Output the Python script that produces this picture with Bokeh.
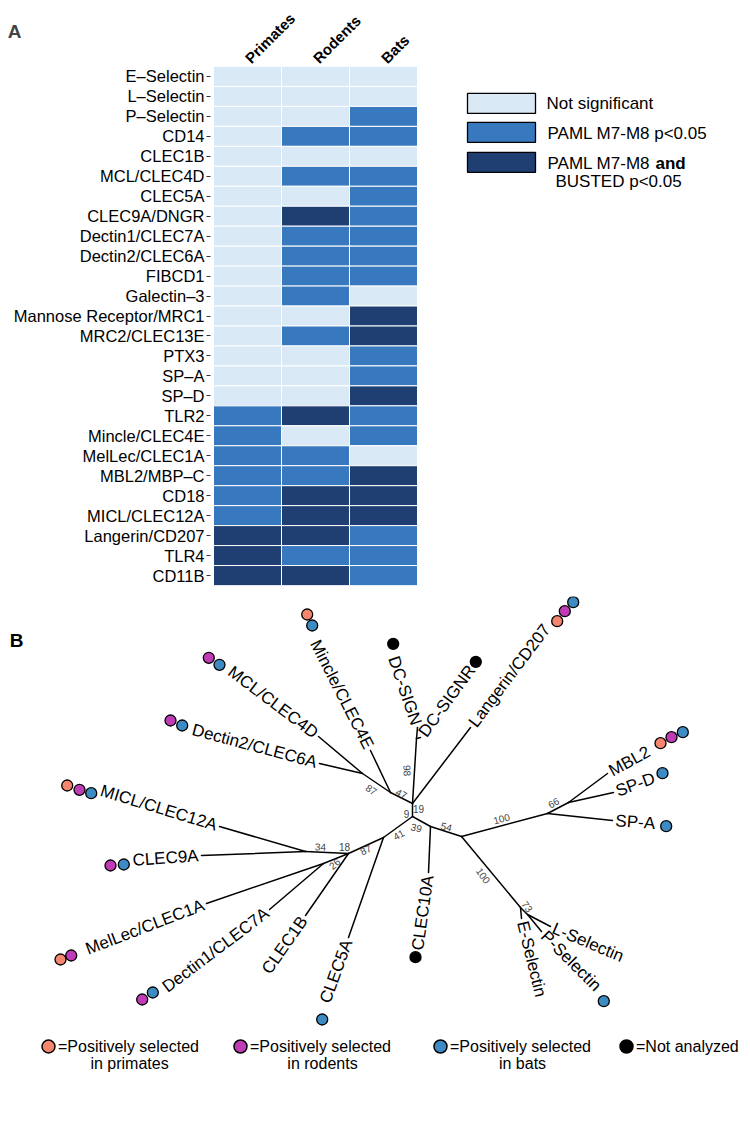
import math
from bokeh.plotting import figure
from bokeh.models import FactorRange, Range1d, Label, ColumnDataSource
from bokeh.layouts import column, row
from bokeh.embed import file_html
from bokeh.resources import INLINE
from bokeh.core.properties import value

FONT = "Liberation Sans"

# ---------------- Panel A data ----------------
genes = ["E–Selectin", "L–Selectin", "P–Selectin", "CD14", "CLEC1B", "MCL/CLEC4D",
         "CLEC5A", "CLEC9A/DNGR", "Dectin1/CLEC7A", "Dectin2/CLEC6A", "FIBCD1",
         "Galectin–3", "Mannose Receptor/MRC1", "MRC2/CLEC13E", "PTX3", "SP–A", "SP–D",
         "TLR2", "Mincle/CLEC4E", "MelLec/CLEC1A", "MBL2/MBP–C", "CD18", "MICL/CLEC12A",
         "Langerin/CD207", "TLR4", "CD11B"]
clades = ["Primates", "Rodents", "Bats"]
# 0 = not significant, 1 = PAML M7-M8 p<0.05, 2 = PAML M7-M8 and BUSTED p<0.05
primates = [0, 0, 0, 0, 0, 0, 0, 0, 0, 0, 0, 0, 0, 0, 0, 0, 0, 1, 1, 1, 1, 1, 1, 2, 2, 2]
rodents  = [0, 0, 0, 1, 0, 1, 0, 2, 1, 1, 1, 1, 0, 1, 0, 0, 0, 2, 0, 1, 1, 2, 2, 2, 1, 2]
bats     = [0, 0, 1, 1, 0, 1, 1, 1, 1, 1, 1, 0, 2, 2, 1, 1, 2, 1, 1, 0, 2, 2, 2, 1, 1, 1]
level_colors = ["#DAE9F6", "#3878BE", "#1F3E72"]

# ---------------- Panel B data (tree layout) ----------------
node_ids = ["n0", "n1", "n2", "n3", "n4", "n5", "n6", "n7", "n8", "n9", "n10", "n11", "n12", "n13", "n14"]
node_x = [412, 412, 390, 362, 416, 383, 430, 461, 547, 568, 520, 527, 348, 323, 305]
node_y = [816, 803, 792, 773, 738, 837, 826, 836, 813, 802, 907, 914, 853, 863, 851]
edge_a = ["n1", "n1", "n2", "n1", "n0", "n0", "n6", "n7", "n8", "n7", "n10", "n5", "n12", "n12"]
edge_b = ["n0", "n2", "n3", "n4", "n5", "n6", "n7", "n8", "n9", "n10", "n11", "n12", "n14", "n13"]

leaf_names = ["MICL/CLEC12A", "CLEC9A", "MelLec/CLEC1A", "Dectin1/CLEC7A", "CLEC1B", "CLEC5A",
              "CLEC10A", "E-Selectin", "P-Selectin", "L-Selectin", "SP-A", "SP-D", "MBL2",
              "Langerin/CD207", "DC-SIGNR", "DC-SIGN", "Mincle/CLEC4E", "MCL/CLEC4D", "Dectin2/CLEC6A"]
leaf_parent = ["n14", "n14", "n13", "n13", "n12", "n5", "n6", "n10", "n11", "n11", "n8", "n9", "n9",
               "n1", "n4", "n4", "n2", "n3", "n3"]
leaf_x = [219, 201, 206, 269, 305, 348, 428, 521, 541, 550, 612, 613, 607, 470, 420, 417, 370, 318, 319]
leaf_y = [826, 855, 903, 909, 915, 937, 872, 918, 931, 926, 820, 792, 773, 727, 737, 727, 750, 736, 763]
leaf_angle = [-17, 4, 21, 37, 55, 70, 82, -76, -45, -23, -4, 20, 29, 53, 54, -71, -63, -37, -15]
leaf_side = ["right", "right", "right", "right", "right", "right", "right", "left", "left", "left",
             "left", "left", "left", "left", "left", "right", "right", "right", "right"]

dot_group = ["primates", "rodents", "bats", "rodents", "bats", "primates", "rodents", "rodents", "bats",
             "bats", "none", "bats", "bats", "bats", "primates", "rodents", "bats", "primates", "rodents",
             "bats", "none", "none", "primates", "bats", "rodents", "bats", "rodents", "bats"]
dot_x = [66.7, 79, 90.7, 110, 123.3, 60, 70.7, 141.7, 152.3, 321.7, 415, 603.3, 665.7, 662, 660, 671,
         682.3, 556.7, 564.3, 572.7, 475.3, 392.7, 306.7, 311.7, 208.3, 219, 170, 181.7]
dot_y = [785, 789.3, 792.7, 865, 864, 959, 955, 999, 992, 1019, 956.7, 1000.7, 825.7, 772.7, 742.7,
         736.7, 731.7, 620.7, 610.7, 601.7, 661.3, 643.3, 614, 625, 657.3, 664.3, 720, 725]

support_text = ["87", "47", "98", "19", "9", "39", "54", "41", "87", "18", "34", "26", "100", "66", "100", "73"]
support_x = [371, 401, 407, 418, 406, 416, 446, 398, 365, 344, 320, 334, 501, 553, 483, 527]
support_y = [789, 793, 770, 808, 813, 827, 826, 834, 849, 846, 846, 863, 818, 802, 875, 906]
support_angle = [-33, -27, -87, 0, 0, -15, -15, 30, 25, 0, -3, 40, 15, 28, -55, -55]

group_keys = ["primates", "rodents", "bats", "none"]
group_colors = ["#F4866E", "#BF3CB6", "#3C8CC3", "#000000"]
group_line1 = ["=Positively selected", "=Positively selected", "=Positively selected", "=Not analyzed"]
group_line2 = ["in primates", "in rodents", "in bats", ""]

legend_levels = ["Not significant", "PAML M7-M8 p<0.05", "PAML M7-M8  "]

# ---------------- layout constants ----------------
A_W, A_H = 436, 596
FRAME_TOP = 65
B_H = 520
W = 742

# ---------------- Panel A: heatmap ----------------
hx, hy, hc = [], [], []
for clade, vals in zip(clades, [primates, rodents, bats]):
    for g, v in zip(genes, vals):
        hx.append(clade)
        hy.append(g)
        hc.append(level_colors[v])
srcA = ColumnDataSource(dict(x=hx, y=hy, c=hc))

pA = figure(width=A_W, height=A_H,
            x_range=FactorRange(factors=clades, range_padding=0.0443, range_padding_units="absolute"),
            y_range=FactorRange(factors=genes[::-1]),
            x_axis_location="above", toolbar_location=None, output_backend="svg",
            min_border_left=210, min_border_right=16, min_border_top=63, min_border_bottom=11)
pA.rect(x="x", y="y", width=1, height=1, fill_color="c", line_color="white", line_width=1, source=srcA)
pA.grid.visible = False
pA.outline_line_color = None
pA.xaxis.major_label_orientation = math.pi / 4
pA.xaxis.major_label_text_font_style = "bold"
pA.xaxis.major_label_text_font_size = "15px"
pA.xaxis.major_label_text_font = FONT
pA.xaxis.major_label_text_color = "black"
pA.xaxis.major_tick_line_color = None
pA.xaxis.axis_line_color = None
pA.xaxis.major_label_standoff = 0
pA.yaxis.major_label_text_font_size = "16.5px"
pA.yaxis.major_label_text_font = FONT
pA.yaxis.major_label_text_color = "black"
pA.yaxis.major_tick_out = 4
pA.yaxis.major_tick_in = 0
pA.yaxis.major_tick_line_color = "#333333"
pA.yaxis.axis_line_color = None
pA.yaxis.major_label_standoff = 2
# panel letter, kept in a side panel so that it is not clipped to the frame
pA.add_layout(Label(x=-2.926, y=27.75, text="A",
                    text_font=FONT, text_font_style="bold", text_font_size="19px",
                    text_align="center", text_baseline="middle"), "right")

# ---------------- Panel A legend ----------------
pL = figure(width=W - A_W, height=A_H, x_range=Range1d(A_W, W),
            y_range=Range1d(-(FRAME_TOP + 520), -FRAME_TOP),
            toolbar_location=None, output_backend="svg",
            min_border_left=0, min_border_right=0, min_border_top=FRAME_TOP,
            min_border_bottom=A_H - FRAME_TOP - 520,
            x_axis_location=None, y_axis_location=None)
pL.grid.visible = False
pL.outline_line_color = None
box_top = [92, 121, 151]
pL.quad(left=[467] * 3, right=[535] * 3, top=[-t for t in box_top], bottom=[-(t + 20) for t in box_top],
        fill_color=level_colors, line_color="black", line_width=1.3)
pL.text(x=[546, 547, 547], y=[-102, -132, -162], text=legend_levels, text_font=value(FONT),
        text_font_size="17px", text_baseline="middle", text_align="left")
pL.text(x=[655], y=[-162], text=["and"], text_font=value(FONT), text_font_style="bold",
        text_font_size="17px", text_baseline="middle", text_align="left")
pL.text(x=[555], y=[-180], text=["BUSTED p<0.05"], text_font=value(FONT),
        text_font_size="17px", text_baseline="middle", text_align="left")

# ---------------- Panel B: tree ----------------
pB = figure(width=W, height=B_H, x_range=Range1d(0, W), y_range=Range1d(-(A_H + B_H), -A_H),
            toolbar_location=None, output_backend="svg", min_border=0,
            x_axis_location=None, y_axis_location=None)
pB.grid.visible = False
pB.outline_line_color = None

npos = {n: (x, y) for n, x, y in zip(node_ids, node_x, node_y)}
sx0, sy0, sx1, sy1 = [], [], [], []
for a, b in zip(edge_a, edge_b):
    sx0.append(npos[a][0]); sy0.append(-npos[a][1])
    sx1.append(npos[b][0]); sy1.append(-npos[b][1])
for par, lx, ly in zip(leaf_parent, leaf_x, leaf_y):
    sx0.append(npos[par][0]); sy0.append(-npos[par][1])
    sx1.append(lx); sy1.append(-ly)
pB.segment(x0=sx0, y0=sy0, x1=sx1, y1=sy1, line_color="black", line_width=1.5, line_cap="round")

for side in ["left", "right"]:
    tx, ty, tt, ta = [], [], [], []
    for name, lx, ly, ang, s in zip(leaf_names, leaf_x, leaf_y, leaf_angle, leaf_side):
        if s != side:
            continue
        r = math.radians(ang)
        sgn = 1 if side == "left" else -1
        tx.append(lx + sgn * 3 * math.cos(r))
        ty.append(-ly + sgn * 3 * math.sin(r))
        tt.append(name)
        ta.append(ang)
    pB.text(x=tx, y=ty, text=tt, angle=ta, angle_units="deg", text_font=value(FONT),
            text_font_size="17px", text_align=side, text_baseline="middle", text_color="black")

pB.text(x=support_x, y=[-v for v in support_y], text=support_text, angle=support_angle,
        angle_units="deg", text_font=value(FONT), text_font_size="10px", text_color="#444444",
        text_align="center", text_baseline="middle")

cmap = dict(zip(group_keys, group_colors))
pB.scatter(x=dot_x, y=[-v for v in dot_y], size=11, marker="circle",
           fill_color=[cmap[g] for g in dot_group], line_color="black", line_width=1.3)

pB.text(x=[16], y=[-640], text=["B"], text_font=value(FONT), text_font_style="bold",
        text_font_size="19px", text_align="center", text_baseline="middle")

# legend B
leg_cx = [48, 240, 440, 626]
leg_c2 = [129, 322, 522, 0]
pB.scatter(x=leg_cx, y=[-1046] * 4, size=13, marker="circle", fill_color=group_colors,
           line_color="black", line_width=1.5)
pB.text(x=[c + 9.5 for c in leg_cx], y=[-1046] * 4, text=group_line1, text_font=value(FONT),
        text_font_size="16px", text_align="left", text_baseline="middle")
pB.text(x=leg_c2[:3], y=[-1063] * 3, text=group_line2[:3], text_font=value(FONT),
        text_font_size="16px", text_align="center", text_baseline="middle")

layout = column(row(pA, pL), pB)
open("out.html", "w").write(file_html(layout, INLINE))
